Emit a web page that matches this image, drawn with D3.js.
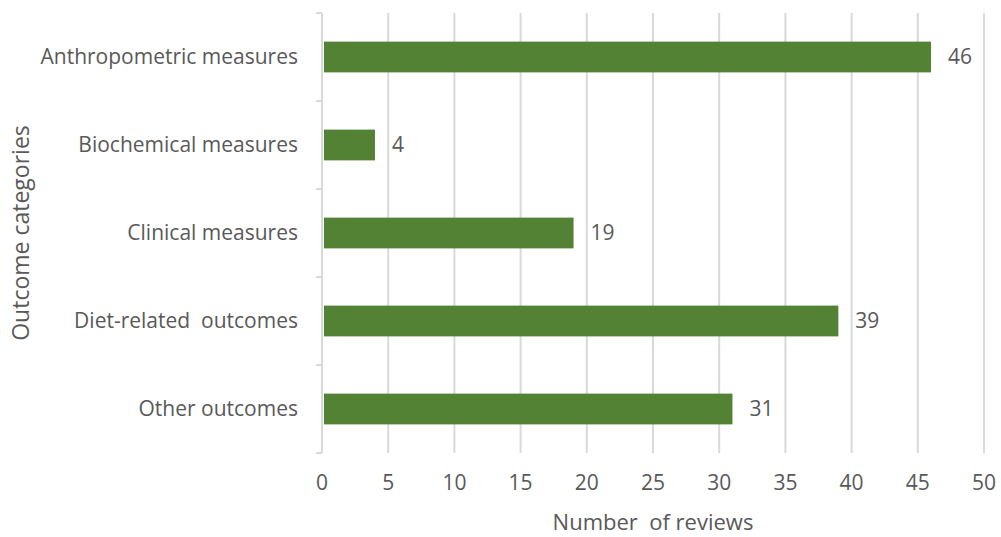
<!DOCTYPE html>
<html>
<head>
<meta charset="utf-8">
<script src="https://cdn.jsdelivr.net/npm/d3@7"></script>
<style>
  body { margin: 0; background: #fff; }
  text { font-family: "Open Sans", sans-serif; fill: #595959; white-space: pre; }
</style>
</head>
<body>
<div id="chart"></div>
<script>
var categories = ["Anthropometric measures", "Biochemical measures", "Clinical measures", "Diet-related  outcomes", "Other outcomes"];
var reviews = [46, 4, 19, 39, 31];
var xTicks = [0, 5, 10, 15, 20, 25, 30, 35, 40, 45, 50];

var width = 1001, height = 537;
var margin = { top: 13, right: 17, bottom: 84, left: 322 };

var svg = d3.select("#chart").append("svg")
    .attr("width", width)
    .attr("height", height);

var x = d3.scaleLinear()
    .domain([0, 50])
    .range([margin.left, width - margin.right]);

var y = d3.scaleBand()
    .domain(categories)
    .range([margin.top, height - margin.bottom])
    .paddingInner(0.65)
    .paddingOuter(0.325);

// gridlines
svg.append("g")
  .selectAll("line")
  .data(xTicks.slice(1))
  .enter().append("line")
    .attr("x1", function(d) { return x(d); })
    .attr("x2", function(d) { return x(d); })
    .attr("y1", margin.top)
    .attr("y2", height - margin.bottom)
    .attr("stroke", "#d9d9d9")
    .attr("stroke-width", 2);

// category axis line + ticks
var tickYs = d3.range(categories.length + 1).map(function(i) { return margin.top + i * (height - margin.top - margin.bottom) / categories.length; });
svg.append("line")
    .attr("x1", x(0)).attr("x2", x(0))
    .attr("y1", margin.top).attr("y2", height - margin.bottom)
    .attr("stroke", "#d9d9d9").attr("stroke-width", 2);
svg.append("g")
  .selectAll("line")
  .data(tickYs)
  .enter().append("line")
    .attr("x1", x(0) - 6).attr("x2", x(0))
    .attr("y1", function(d) { return d; })
    .attr("y2", function(d) { return d; })
    .attr("stroke", "#d9d9d9").attr("stroke-width", 2);

// bars
svg.append("g")
  .selectAll("rect")
  .data(categories)
  .enter().append("rect")
    .attr("x", x(0) + 2)
    .attr("y", function(d) { return y(d); })
    .attr("width", function(d, i) { return x(reviews[i]) - x(0) - 2; })
    .attr("height", y.bandwidth())
    .attr("fill", "#548235");

// value labels
svg.append("g")
  .selectAll("text")
  .data(categories)
  .enter().append("text")
    .attr("x", function(d, i) { return x(reviews[i]) + 17; })
    .attr("y", function(d) { return y(d) + y.bandwidth() / 2; })
    .attr("dy", "0.35em")
    .style("font-size", "21px")
    .text(function(d, i) { return reviews[i]; });

// category labels
svg.append("g")
  .selectAll("text")
  .data(categories)
  .enter().append("text")
    .attr("x", x(0) - 24)
    .attr("y", function(d) { return y(d) + y.bandwidth() / 2; })
    .attr("dy", "0.35em")
    .attr("text-anchor", "end")
    .style("font-size", "21px")
    .text(function(d) { return d; });

// x tick labels
svg.append("g")
  .selectAll("text")
  .data(xTicks)
  .enter().append("text")
    .attr("x", function(d) { return x(d); })
    .attr("y", 483)
    .attr("dy", "0.35em")
    .attr("text-anchor", "middle")
    .style("font-size", "21px")
    .text(function(d) { return d; });

// axis titles
svg.append("text")
    .attr("x", (x(0) + x(50)) / 2)
    .attr("y", 522)
    .attr("dy", "0.35em")
    .attr("text-anchor", "middle")
    .style("font-size", "22px")
    .text("Number  of reviews");

svg.append("text")
    .attr("transform", "translate(21," + ((margin.top + height - margin.bottom) / 2) + ") rotate(-90)")
    .attr("dy", "0.35em")
    .attr("text-anchor", "middle")
    .style("font-size", "23px")
    .text("Outcome categories");
</script>
</body>
</html>
